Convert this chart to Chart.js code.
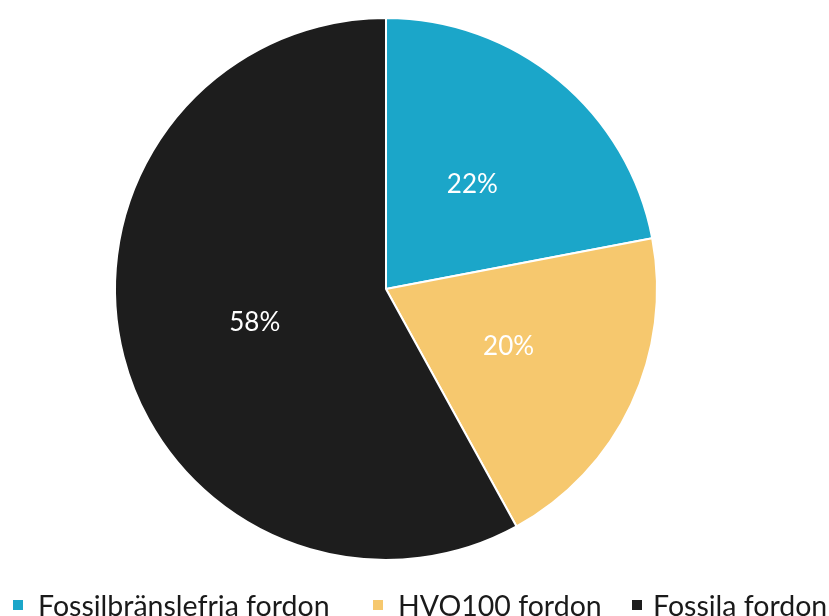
<!DOCTYPE html>
<html>
<head>
<meta charset="utf-8">
<script src="https://cdn.jsdelivr.net/npm/chart.js@4"></script>
<style>
  html, body { margin: 0; padding: 0; background: #fff; overflow: hidden; }
  #wrap { position: relative; width: 829px; height: 616px; }
  #legend { position: absolute; left: 0; top: 0; width: 829px; height: 616px; pointer-events: none; }
  .item { position: absolute; top: 590px; height: 30px; white-space: nowrap;
          font-family: Lato, sans-serif; font-size: 28.5px; line-height: 30px; color: #1a1a1a; }
  .box { position: absolute; left: 0; top: 10px; width: 10px; height: 10px; }
  .txt { position: absolute; top: 0; }
</style>
</head>
<body>
<div id="wrap">
  <canvas id="pieChart" width="829" height="616"></canvas>
  <div id="legend"></div>
</div>
<script>
var labels = ['Fossilbränslefria fordon', 'HVO100 fordon', 'Fossila fordon'];
var shares = [22, 20, 58];
var colors = ['#1ba6c9', '#f6c86e', '#1d1d1d'];

// layout of the legend row under the pie
var legendLeft = [13, 373, 632];
var legendTextOffset = [25, 25, 21];

var sliceLabels = {
    id: 'sliceLabels',
    afterDatasetsDraw: function (chart) {
        var ctx = chart.ctx;
        var meta = chart.getDatasetMeta(0);
        ctx.save();
        ctx.fillStyle = '#ffffff';
        ctx.font = '26px Lato';
        ctx.textAlign = 'center';
        ctx.textBaseline = 'middle';
        meta.data.forEach(function (arc, i) {
            var p = arc.tooltipPosition();
            ctx.fillText(shares[i] + '%', p.x, p.y);
        });
        ctx.restore();
    }
};

var chart = new Chart(document.getElementById('pieChart').getContext('2d'), {
    type: 'pie',
    data: {
        labels: labels,
        datasets: [{
            data: shares,
            backgroundColor: colors,
            borderColor: '#ffffff',
            borderWidth: 2
        }]
    },
    options: {
        responsive: false,
        animation: false,
        layout: { padding: { top: 17, left: 0, right: 57, bottom: 55 } },
        plugins: {
            tooltip: { enabled: false },
            legend: { display: false }
        }
    },
    plugins: [sliceLabels]
});

// html legend built from the same arrays
var legendEl = document.getElementById('legend');
labels.forEach(function (name, i) {
    var item = document.createElement('div');
    item.className = 'item';
    item.style.left = legendLeft[i] + 'px';
    var box = document.createElement('span');
    box.className = 'box';
    box.style.background = colors[i];
    var txt = document.createElement('span');
    txt.className = 'txt';
    txt.style.left = legendTextOffset[i] + 'px';
    txt.textContent = name;
    item.appendChild(box);
    item.appendChild(txt);
    legendEl.appendChild(item);
});
</script>
</body>
</html>
